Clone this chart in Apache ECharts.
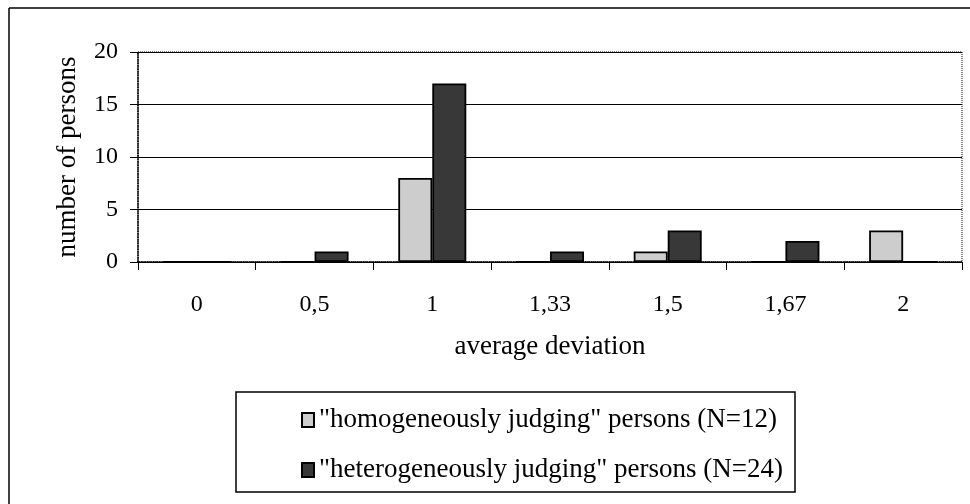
<!DOCTYPE html>
<html>
<head>
<meta charset="utf-8">
<script src="https://cdn.jsdelivr.net/npm/echarts@6/dist/echarts.min.js"></script>
<style>
html,body{margin:0;padding:0;background:#fff;}
#chart{width:970px;height:504px;}
</style>
</head>
<body>
<div id="chart"></div>
<script>
const categories = ['0', '0,5', '1', '1,33', '1,5', '1,67', '2'];
const homogeneous = [0, 0, 8, 0, 1, 0, 3];
const heterogeneous = [0, 1, 17, 1, 3, 2, 0];
const yTicks = [0, 5, 10, 15, 20];
const seriesNames = ['"homogeneously judging" persons (N=12)', '"heterogeneously judging" persons (N=24)'];

const FONT = '"Liberation Serif", "Times New Roman", serif';
const chart = echarts.init(document.getElementById('chart'), null, {renderer: 'canvas'});
chart.setOption({
  backgroundColor: '#fff',
  animation: false,
  textStyle: {fontFamily: FONT, color: '#000'},
  grid: {left: 138, right: 8, top: 52, bottom: 242, show: true, borderColor: '#000', borderWidth: 1, borderType: 'dotted'},
  xAxis: {
    type: 'category',
    data: categories,
    name: 'average deviation',
    nameLocation: 'middle',
    nameGap: 71,
    nameTextStyle: {fontFamily: FONT, fontSize: 27, color: '#000'},
    axisLine: {lineStyle: {color: '#000', width: 1.5, type: 'dotted'}},
    axisTick: {show: true, length: 8, lineStyle: {color: '#000', width: 1}},
    axisLabel: {fontFamily: FONT, fontSize: 24, color: '#000', margin: 31},
    splitLine: {show: false}
  },
  yAxis: {
    type: 'value',
    min: yTicks[0],
    max: yTicks[yTicks.length - 1],
    interval: yTicks[1] - yTicks[0],
    name: 'number of persons',
    nameLocation: 'middle',
    nameGap: 57,
    nameRotate: 90,
    nameTextStyle: {fontFamily: FONT, fontSize: 27, color: '#000'},
    axisLine: {show: true, lineStyle: {color: '#000', width: 1.5, type: 'dotted'}},
    axisTick: {show: true, length: 8, lineStyle: {color: '#000'}},
    axisLabel: {fontFamily: FONT, fontSize: 24, color: '#000', margin: 20},
    splitLine: {show: true, lineStyle: {color: '#000', width: 1.2}}
  },
  legend: {
    orient: 'vertical',
    left: 296,
    top: 401,
    icon: 'rect',
    itemWidth: 12,
    itemHeight: 14,
    itemGap: 22,
    textStyle: {fontFamily: FONT, fontSize: 27, color: '#000', lineHeight: 28},
    data: seriesNames
  },
  series: [
    {
      name: seriesNames[0], type: 'bar', data: homogeneous, barWidth: 34, barGap: '0%',
      itemStyle: {color: '#cdcdcd', borderColor: '#000', borderWidth: 1.8}
    },
    {
      name: seriesNames[1], type: 'bar', data: heterogeneous, barWidth: 34, barGap: '0%',
      itemStyle: {color: '#383838', borderColor: '#000', borderWidth: 1.8}
    }
  ],
  graphic: [
    {type: 'line', shape: {x1: 9, y1: 8, x2: 970, y2: 8}, style: {stroke: '#000', lineWidth: 1.5}},
    {type: 'line', shape: {x1: 9, y1: 8, x2: 9, y2: 504}, style: {stroke: '#000', lineWidth: 1.5}},
    {type: 'rect', shape: {x: 236, y: 392, width: 559, height: 100}, style: {fill: null, stroke: '#000', lineWidth: 1.5}, z: 10}
  ]
});
</script>
</body>
</html>
